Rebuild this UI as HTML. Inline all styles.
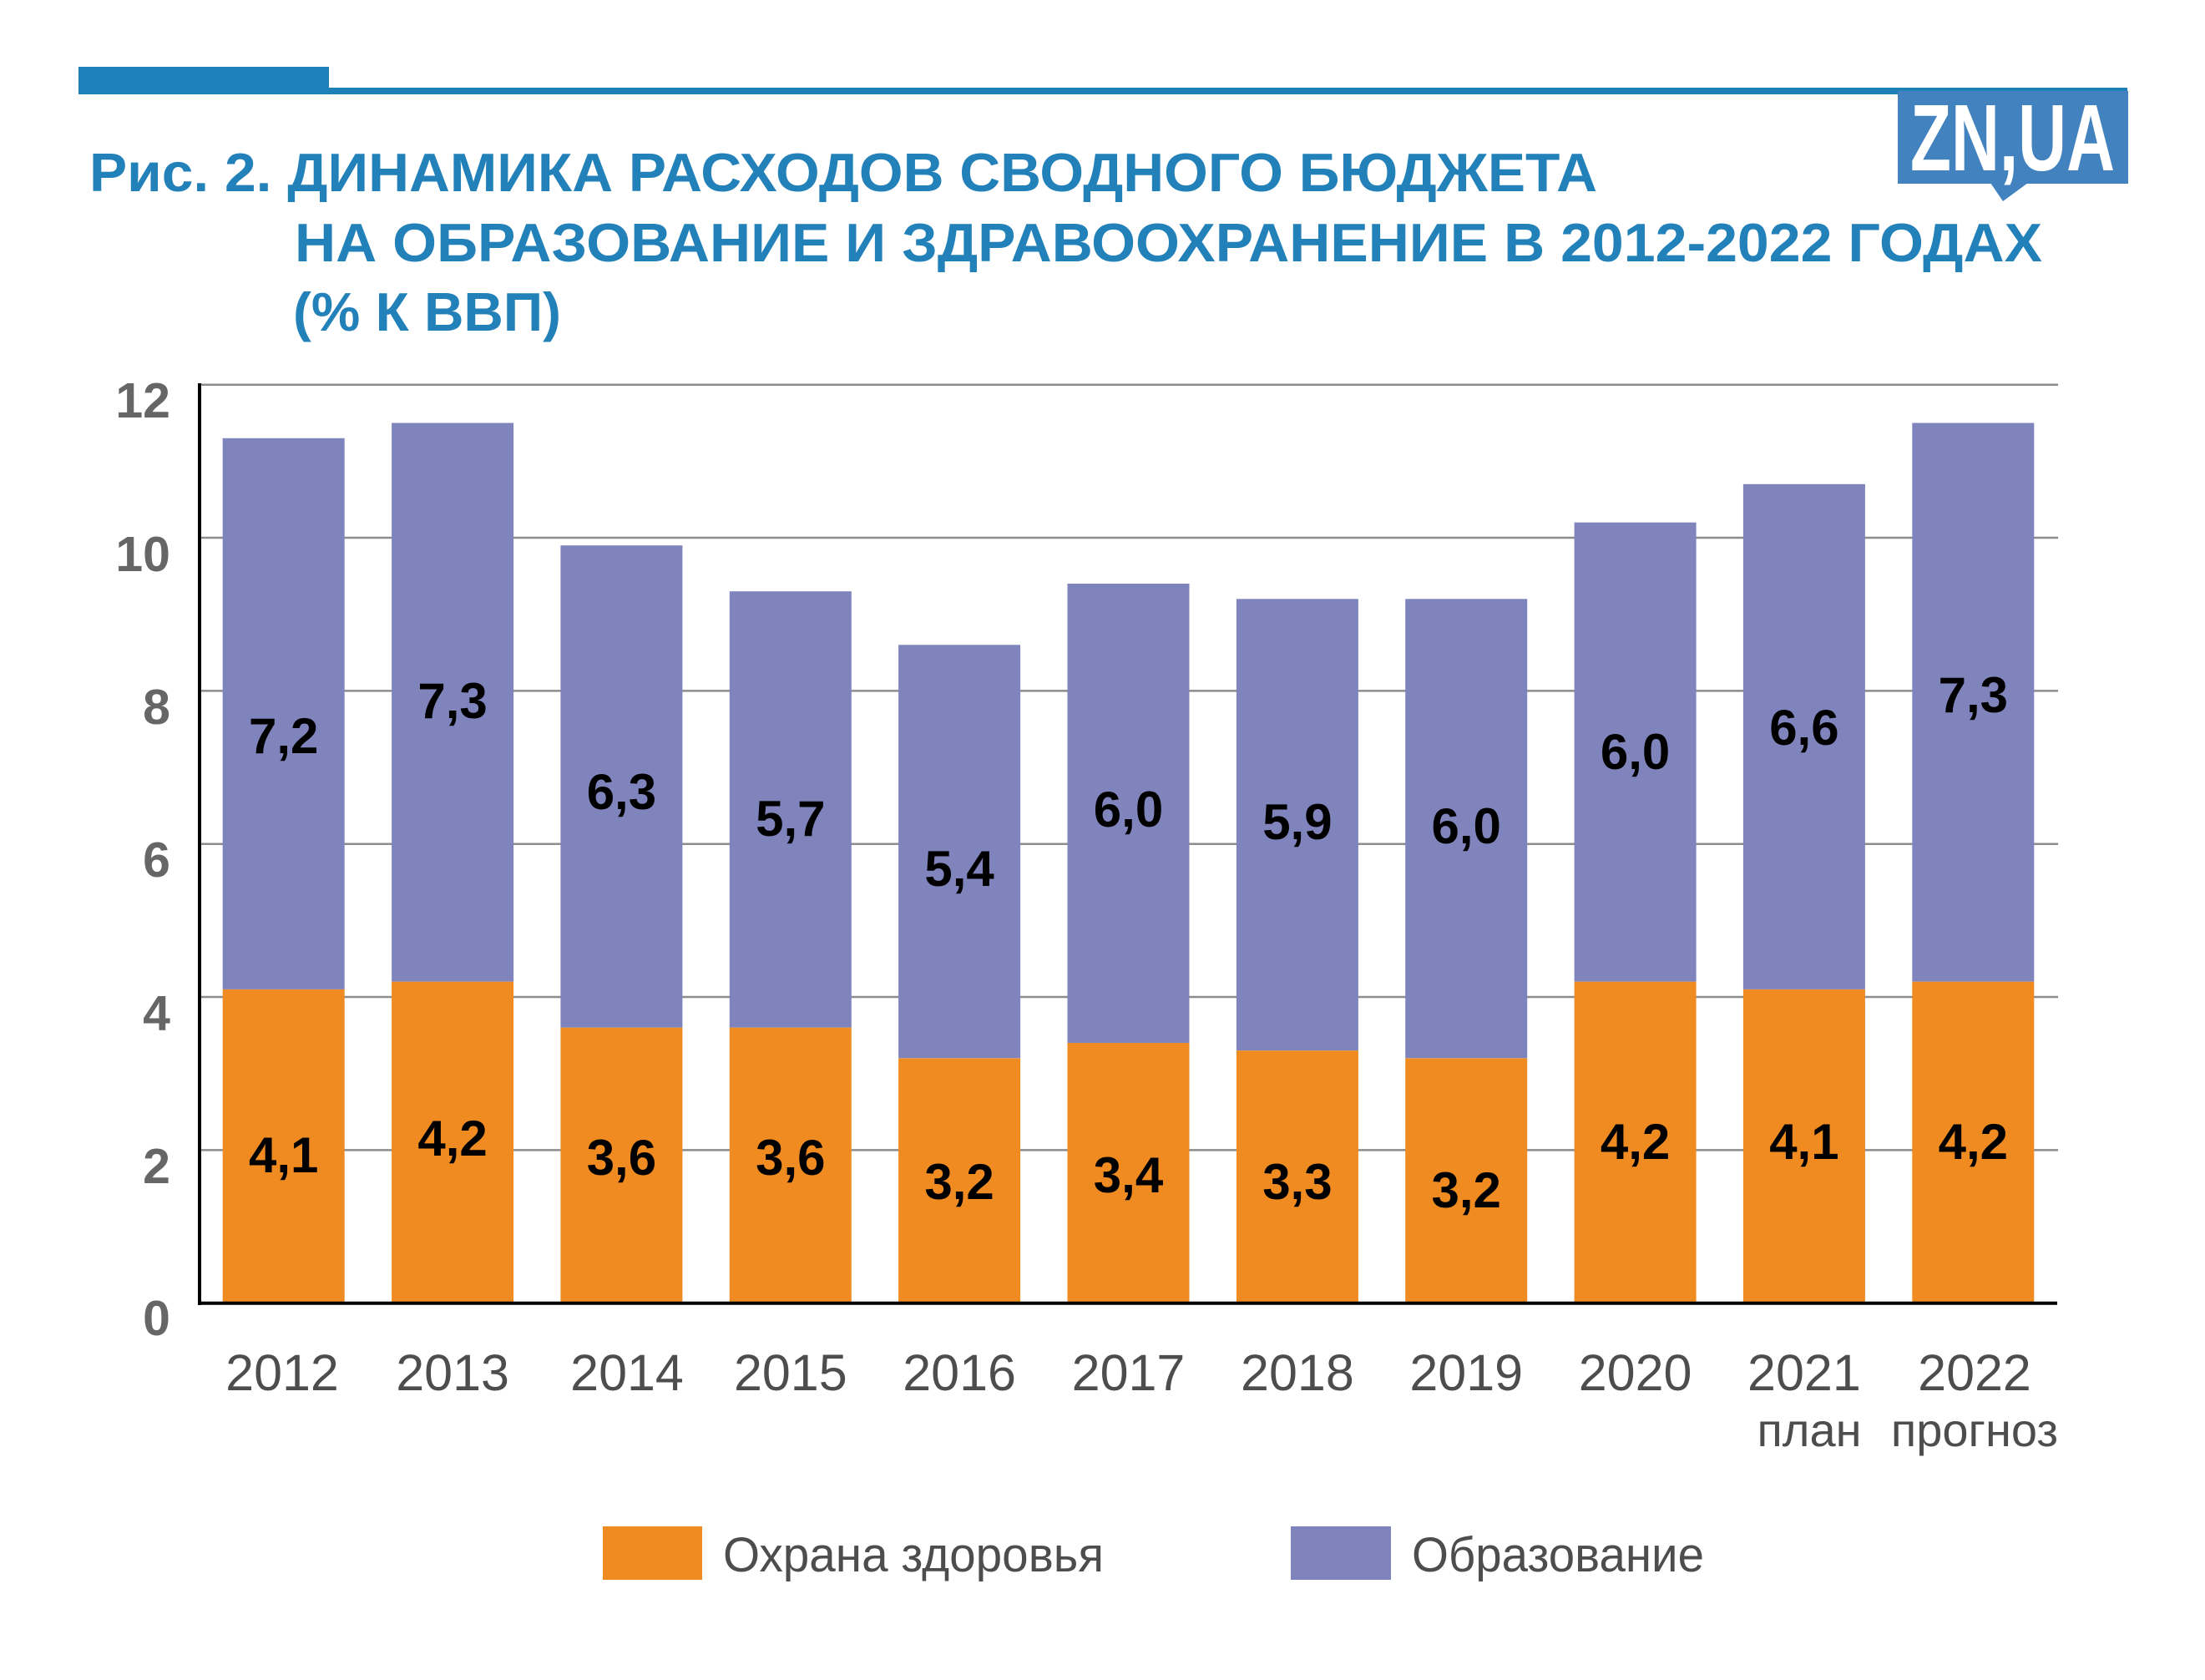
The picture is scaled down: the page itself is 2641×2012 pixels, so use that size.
<!DOCTYPE html>
<html>
<head>
<meta charset="utf-8">
<style>
html,body{margin:0;padding:0;background:#fff;}
svg{display:block;}
text{font-family:"Liberation Sans","DejaVu Sans",sans-serif;}
</style>
</head>
<body>
<svg width="2641" height="2012" viewBox="0 0 2641 2012" xmlns="http://www.w3.org/2000/svg">
<rect x="0" y="0" width="2641" height="2012" fill="#ffffff"/>

<!-- top decoration -->
<rect x="94" y="105" width="2454" height="8" fill="#1f7fb8"/>
<rect x="94" y="80" width="300" height="33" fill="#1f7fb8"/>

<!-- logo -->
<rect x="2273" y="109" width="276" height="111" fill="#4282be"/>
<polygon points="2384,219 2429,219 2399,241" fill="#4282be"/>
<text x="2288" y="204" font-size="113" font-weight="bold" fill="#ffffff" textLength="245" lengthAdjust="spacingAndGlyphs">ZN,UA</text>

<!-- title -->
<g font-weight="bold" font-size="65" fill="#2381ba">
<text x="107" y="229" textLength="1806" lengthAdjust="spacingAndGlyphs">Рис. 2. ДИНАМИКА РАСХОДОВ СВОДНОГО БЮДЖЕТА</text>
<text x="353" y="313" textLength="2093" lengthAdjust="spacingAndGlyphs">НА ОБРАЗОВАНИЕ И ЗДРАВООХРАНЕНИЕ В 2012-2022 ГОДАХ</text>
<text x="351" y="396" textLength="321" lengthAdjust="spacingAndGlyphs">(% К ВВП)</text>
</g>

<!-- gridlines -->
<g stroke="#8c8c8c" stroke-width="2.5">
<line x1="240" y1="460.7" x2="2465" y2="460.7"/>
<line x1="240" y1="644.0" x2="2465" y2="644.0"/>
<line x1="240" y1="827.4" x2="2465" y2="827.4"/>
<line x1="240" y1="1010.7" x2="2465" y2="1010.7"/>
<line x1="240" y1="1194.0" x2="2465" y2="1194.0"/>
<line x1="240" y1="1377.4" x2="2465" y2="1377.4"/>
</g>

<!-- y tick labels -->
<g font-weight="bold" font-size="59" fill="#666666" text-anchor="end">
<text x="204" y="500">12</text>
<text x="204" y="684">10</text>
<text x="204" y="867">8</text>
<text x="204" y="1050">6</text>
<text x="204" y="1234">4</text>
<text x="204" y="1417">2</text>
<text x="204" y="1599">0</text>
</g>

<!-- bars: x = 266.7 + i*202.36, w=146; y(v)=1560.7 - v*91.67 -->
<g>
<!-- 2012: 4.1 + 7.2 -->
<rect x="266.7" y="524.8" width="146" height="660.1" fill="#8084bd"/>
<rect x="266.7" y="1184.9" width="146" height="375.8" fill="#ef8b20"/>
<!-- 2013: 4.2 + 7.3 -->
<rect x="469.1" y="506.5" width="146" height="669.2" fill="#8084bd"/>
<rect x="469.1" y="1175.7" width="146" height="385.0" fill="#ef8b20"/>
<!-- 2014: 3.6 + 6.3 -->
<rect x="671.4" y="653.2" width="146" height="577.5" fill="#8084bd"/>
<rect x="671.4" y="1230.7" width="146" height="330.0" fill="#ef8b20"/>
<!-- 2015: 3.6 + 5.7 -->
<rect x="873.8" y="708.2" width="146" height="522.5" fill="#8084bd"/>
<rect x="873.8" y="1230.7" width="146" height="330.0" fill="#ef8b20"/>
<!-- 2016: 3.2 + 5.4 -->
<rect x="1076.1" y="772.3" width="146" height="495.0" fill="#8084bd"/>
<rect x="1076.1" y="1267.4" width="146" height="293.3" fill="#ef8b20"/>
<!-- 2017: 3.4 + 6.0 -->
<rect x="1278.5" y="699.0" width="146" height="550.0" fill="#8084bd"/>
<rect x="1278.5" y="1249.0" width="146" height="311.7" fill="#ef8b20"/>
<!-- 2018: 3.3 + 5.9 -->
<rect x="1480.9" y="717.3" width="146" height="540.9" fill="#8084bd"/>
<rect x="1480.9" y="1258.2" width="146" height="302.5" fill="#ef8b20"/>
<!-- 2019: 3.2 + 6.0 -->
<rect x="1683.2" y="717.3" width="146" height="550.0" fill="#8084bd"/>
<rect x="1683.2" y="1267.4" width="146" height="293.3" fill="#ef8b20"/>
<!-- 2020: 4.2 + 6.0 -->
<rect x="1885.6" y="625.7" width="146" height="550.0" fill="#8084bd"/>
<rect x="1885.6" y="1175.7" width="146" height="385.0" fill="#ef8b20"/>
<!-- 2021: 4.1 + 6.6 -->
<rect x="2087.9" y="579.8" width="146" height="605.1" fill="#8084bd"/>
<rect x="2087.9" y="1184.9" width="146" height="375.8" fill="#ef8b20"/>
<!-- 2022: 4.2 + 7.3 -->
<rect x="2290.3" y="506.5" width="146" height="669.2" fill="#8084bd"/>
<rect x="2290.3" y="1175.7" width="146" height="385.0" fill="#ef8b20"/>
</g>

<!-- axes -->
<line x1="239" y1="459" x2="239" y2="1563" stroke="#000" stroke-width="4"/>
<line x1="237" y1="1560.7" x2="2464" y2="1560.7" stroke="#000" stroke-width="4"/>

<!-- data labels -->
<g font-weight="bold" font-size="60" fill="#000" text-anchor="middle">
<text x="339.7" y="902">7,2</text>
<text x="542.1" y="860">7,3</text>
<text x="744.4" y="969">6,3</text>
<text x="946.8" y="1001">5,7</text>
<text x="1149.1" y="1061">5,4</text>
<text x="1351.5" y="990">6,0</text>
<text x="1553.9" y="1005">5,9</text>
<text x="1756.2" y="1010">6,0</text>
<text x="1958.6" y="921">6,0</text>
<text x="2160.9" y="892">6,6</text>
<text x="2363.3" y="853">7,3</text>

<text x="339.7" y="1404">4,1</text>
<text x="542.1" y="1384">4,2</text>
<text x="744.4" y="1407">3,6</text>
<text x="946.8" y="1407">3,6</text>
<text x="1149.1" y="1436">3,2</text>
<text x="1351.5" y="1428">3,4</text>
<text x="1553.9" y="1436">3,3</text>
<text x="1756.2" y="1446">3,2</text>
<text x="1958.6" y="1388">4,2</text>
<text x="2160.9" y="1388">4,1</text>
<text x="2363.3" y="1388">4,2</text>
</g>

<!-- x labels -->
<g font-size="61" fill="#4d4d4d" text-anchor="middle">
<text x="338" y="1665">2012</text>
<text x="542.1" y="1665">2013</text>
<text x="751" y="1665">2014</text>
<text x="946.8" y="1665">2015</text>
<text x="1149.1" y="1665">2016</text>
<text x="1351.5" y="1665">2017</text>
<text x="1553.9" y="1665">2018</text>
<text x="1756.2" y="1665">2019</text>
<text x="1958.6" y="1665">2020</text>
<text x="2160.9" y="1665">2021</text>
<text x="2365" y="1665">2022</text>
</g>
<g font-size="56" fill="#4d4d4d" text-anchor="middle">
<text x="2167" y="1732">план</text>
<text x="2365" y="1732">прогноз</text>
</g>

<!-- legend -->
<rect x="722" y="1828" width="119" height="64" fill="#ef8b20"/>
<text x="866" y="1882" font-size="58" fill="#4d4d4d" textLength="456" lengthAdjust="spacingAndGlyphs">Охрана здоровья</text>
<rect x="1546" y="1828" width="120" height="64" fill="#8084bd"/>
<text x="1691" y="1882" font-size="58" fill="#4d4d4d" textLength="350" lengthAdjust="spacingAndGlyphs">Образование</text>
</svg>
</body>
</html>
